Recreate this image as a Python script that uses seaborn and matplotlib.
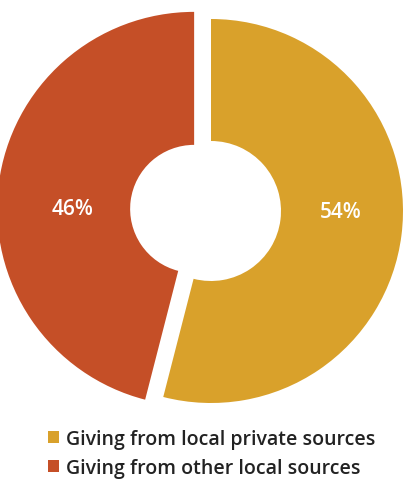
import matplotlib
matplotlib.use('Agg')
import matplotlib.pyplot as plt
import seaborn as sns

# ---- data ----
categories = ['Giving from local private sources', 'Giving from other local sources']
shares = [54, 46]
colors = ['#D9A12B', '#C54F27']

sns.set_theme(style='white')
plt.rcParams['font.family'] = ['Open Sans', 'DejaVu Sans']

W, H = 405, 481
fig = plt.figure(figsize=(W / 100, H / 100), dpi=100)
ax = fig.add_axes([0, 0, 1, 1])

cx, cy = 211, 269

# gold ring (first slice)
gw, gt, ga = ax.pie(shares, colors=[colors[0], 'none'], startangle=90, counterclock=False,
                    radius=192, center=(cx, cy), autopct='%1.0f%%', pctdistance=0.68,
                    wedgeprops=dict(width=122, linewidth=0))
# red ring (second slice), exploded
rw, rt, ra = ax.pie(shares, colors=['none', colors[1]], startangle=90, counterclock=False,
                    radius=197, center=(cx, cy), explode=[0, 17], autopct='%1.0f%%',
                    pctdistance=0.62, wedgeprops=dict(width=133, linewidth=0))

ga[1].set_visible(False)
ra[0].set_visible(False)
for t, w in ((ga[0], gw[0]), (ra[1], rw[1])):
    t.set_y(w.center[1])
    t.set_color('white')
    t.set_fontsize(15)
    t.set_fontweight('semibold')
    t.set_ha('center')
    t.set_va('center')

ax.legend([gw[0], rw[1]], categories, loc='upper left',
          bbox_to_anchor=(48 / W, 1 - 430 / H), frameon=False,
          prop={'size': 14, 'weight': 'semibold'},
          handlelength=0.55, handleheight=0.55, handletextpad=0.4, labelspacing=0.45,
          borderaxespad=0, borderpad=0, labelcolor='#222222')

ax.set_xlim(0, W)
ax.set_ylim(0, H)
ax.axis('off')
fig.savefig('out.png', dpi=100)
